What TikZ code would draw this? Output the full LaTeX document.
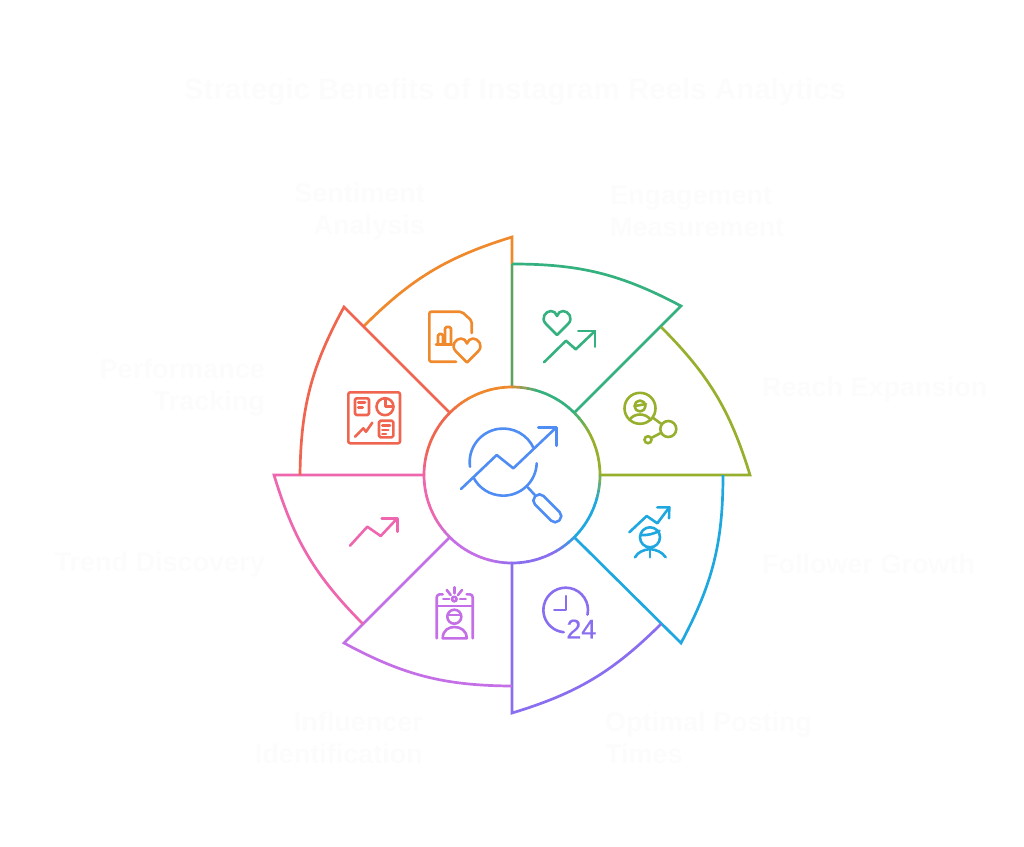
\documentclass[tikz,border=0pt]{standalone}
\usepackage{fontspec}
\setmainfont{Liberation Sans}
\definecolor{segorange}{HTML}{F0892B}
\definecolor{seggreen}{HTML}{34B17F}
\definecolor{segolive}{HTML}{96B02E}
\definecolor{segblue}{HTML}{1FA8E0}
\definecolor{segviolet}{HTML}{8A6EF0}
\definecolor{segorchid}{HTML}{C46FE6}
\definecolor{segpink}{HTML}{EE66AE}
\definecolor{segred}{HTML}{F0654F}
\definecolor{hubblue}{HTML}{4F8DF5}
\definecolor{ghost}{HTML}{FCFCFC}
\usetikzlibrary{arrows.meta, positioning}
\tikzset{
  sector/.style={line width=2.7pt, line join=miter},
  ringline/.style={line width=2.7pt},
  icon/.style={line width=2.6pt, line cap=round, line join=round},
  lbl/.style={font=\bfseries\fontsize{27}{32}\selectfont, color=ghost, inner sep=0pt},
  lblleft/.style={lbl, anchor=west, align=left},
  lblright/.style={lbl, anchor=east, align=right},
}
\newcommand{\heartpath}{(0,12) -- (-11,1) .. controls (-17,-5) and (-11,-12) .. (-6,-12) .. controls (-3,-12) and (-1,-10) .. (0,-7) .. controls (1,-10) and (3,-12) .. (6,-12) .. controls (11,-12) and (17,-5) .. (11,1) -- cycle}
\begin{document}
\begin{tikzpicture}[x=1pt,y=-1pt]
\useasboundingbox (0,0) rectangle (1024,846);
\node[minimum size=176pt,circle,inner sep=0pt,outer sep=0pt] (hub) at (512,475) {};
% petals
\foreach \sx/\sy/\ex/\ey/\ang/\col in {363/327/512/237/90/segorange,512/264/681/306/45/seggreen,661/327/750/475/0/segolive,723/475/681/643/-45/segblue,661/624/512/713/-90/segviolet,512/686/344/643/-135/segorchid,363/624/274/475/180/segpink,300/475/344/307/135/segred}
  \draw[sector,\col] (\sx,\sy) to[bend left=14] (\ex,\ey) -- (hub.\ang);
\draw[sector,seggreen] (512,264) -- (hub.90);
% hub ring
\foreach \ang/\cold/\cnew in {90/segorange/seggreen,45/seggreen/segolive,0/segolive/segblue,-45/segblue/segviolet,-90/segviolet/segorchid,-135/segorchid/segpink,180/segpink/segred,135/segred/segorange}
  \foreach \s in {0,...,8}{
    \pgfmathtruncatemacro{\mixval}{max(0,75-25*\s)}
    \draw[ringline,\cold!\mixval!\cnew,shift={(hub.center)}] (\ang-5*\s:88pt) arc[start angle=\ang-5*\s,delta angle=-5.4,radius=88pt];
  }
% hub icon
\draw[icon,hubblue] (470,466.7) arc[start angle=188,end angle=24.5,radius=33.5pt];
\draw[icon,hubblue] (536.7,463.3) arc[start angle=-2,end angle=-153,radius=33.5pt];
\draw[icon,hubblue] (461,489) -- (496.7,455) -- (513.3,468.3) -- (556,427.7);
\draw[icon,hubblue] (538.3,427.7) -- (556.7,427.7) -- (556.7,445.7);
\node[draw=hubblue,line width=2.6pt,rounded corners=5.5pt,inner sep=0pt,minimum width=34pt,minimum height=12pt,rotate=-45] (lens) at (547.3,508.3) {};
\draw[icon,hubblue] (527.7,487.3) -- (lens);
% engagement
\draw[icon,seggreen,shift={(557,323)}] \heartpath;
\draw[icon,seggreen] (544,362.3) -- (566,340.7) -- (575.7,349.3) -- (595,331);
\draw[icon,seggreen] (578.3,331) -- (595,331) -- (595,346.7);
% reach
\node[draw=segolive,line width=2.6pt,circle,inner sep=0pt,minimum size=31pt] (reachhead) at (640,408.3) {};
\node[draw=segolive,line width=2.6pt,circle,inner sep=0pt,minimum size=16pt] (reachbig) at (668.3,429) {};
\node[draw=segolive,line width=2.6pt,circle,inner sep=0pt,minimum size=7pt] (reachsmall) at (648,439.7) {};
\draw[icon,segolive] (reachhead) -- (reachbig);
\draw[icon,segolive] (reachbig) -- (reachsmall);
\draw[icon,segolive] (640,406) circle[radius=5.5pt];
\draw[icon,segolive] (635,406) -- (646,404);
\draw[icon,segolive] (629.5,420) .. controls (632,416) and (636,414.5) .. (640,414.5) .. controls (644,414.5) and (648,416) .. (650.7,420);
% followers
\draw[icon,segblue] (629.3,532.3) -- (646.7,516) -- (657.3,523.3) -- (669.3,507.3);
\draw[icon,segblue] (657.3,507.3) -- (669.3,507.3) -- (669,518.3);
\draw[icon,segblue] (650,537.3) circle[radius=10pt];
\draw[icon,segblue] (641,535) .. controls (647,535.5) and (654,534) .. (659.5,530.7);
\draw[icon,segblue] (650,547.3) -- (650,557.3);
\draw[icon,segblue] (635,557.3) .. controls (638,552) and (643,550) .. (650,549) .. controls (657,550) and (662,552) .. (665.7,557.3);
% posting times
\draw[icon,segviolet] (587.5,614.6) arc[start angle=-12,end angle=265,radius=22.3pt];
\draw[icon,segviolet] (566,596) -- (566,610) -- (554.3,610);
\node[font=\fontsize{27}{27}\selectfont\addfontfeature{FakeBold=0.6},color=segviolet,inner sep=0pt] (hours) at (581.3,629) {24};
% influencer
\draw[icon,segorchid,rounded corners=3pt] (436.7,638.3) -- (436.7,594.3) -- (442.7,594.3);
\draw[icon,segorchid,rounded corners=3pt] (472.7,638.3) -- (472.7,594.3) -- (466.7,594.3);
\draw[icon,segorchid] (436.7,606) -- (472.7,606);
\draw[icon,segorchid] (454.3,599) circle[radius=2.3pt];
\draw[icon,segorchid] (454.3,587.3) -- (454.3,593.3);
\draw[icon,segorchid] (446.7,590) -- (450.7,595);
\draw[icon,segorchid] (462,590) -- (458,595);
\draw[icon,segorchid] (443.3,599) -- (449.3,599);
\draw[icon,segorchid] (460,599) -- (465.7,599);
\draw[icon,segorchid] (454.3,616.7) circle[radius=7pt];
\draw[icon,segorchid] (447.5,615) -- (461,615);
\draw[icon,segorchid] (442.7,638.3) .. controls (442.7,630) and (449,627) .. (454.3,627) .. controls (460,627) and (466.7,630) .. (466.7,638.3) -- cycle;
% trend
\draw[icon,segpink] (350,545.7) -- (367.3,526.7) -- (380.7,536) -- (397.3,518.3);
\draw[icon,segpink] (381.7,518.3) -- (397.3,518.3) -- (397.3,531.7);
% tracking
\draw[icon,segred,rounded corners=2pt] (348.3,392.3) rectangle (400,443.3);
\draw[icon,segred,rounded corners=1.5pt] (355,398.3) rectangle (369,415);
\draw[icon,segred] (358.3,402.7) -- (365,402.7);
\draw[icon,segred] (358.3,407.7) -- (362.7,407.7);
\draw[icon,segred] (385,406.7) circle[radius=8.5pt];
\draw[icon,segred] (385.7,399) -- (385.7,406.7) -- (393,406.7);
\draw[icon,segred] (355,436.7) -- (363.3,428.3) -- (366,431.7) -- (372.3,422.7);
\draw[icon,segred,rounded corners=1.5pt] (379,420.7) rectangle (393.3,437.3);
\draw[icon,segred] (382.3,425.7) -- (390,425.7);
\draw[icon,segred] (382.3,430) -- (388.3,430);
\draw[icon,segred] (382.3,434) -- (386,434);
% sentiment
\draw[icon,segorange,rounded corners=2pt] (471.7,333) -- (471.7,320.7) -- (461.7,311.7) -- (429.3,311.7) -- (429.3,361.7) -- (456,361.7);
\draw[icon,segorange] (436,344.5) -- (452,344.5);
\draw[icon,segorange,rounded corners=1.5pt] (438,344.5) -- (438,334) -- (443,334) -- (443,344.5);
\draw[icon,segorange,rounded corners=1.5pt] (445,344.5) -- (445,327) -- (451,327) -- (451,344.5);
\draw[icon,segorange,fill=white,shift={(467,350.5)}] \heartpath;
% labels
\node[lbl,font=\bfseries\fontsize{29.5}{32}\selectfont] (title) at (515,92) {Strategic Benefits of Instagram Reels Analytics};
\node[lblright] (sentiment) at (425,212) {Sentiment\\Analysis};
\node[lblleft] (engagement) at (610,211) {Engagement\\Measurement};
\node[lblleft] (reach) at (762,390) {Reach Expansion};
\node[lblleft] (followers) at (762,564) {Follower Growth};
\node[lblleft] (posting) at (605,738) {Optimal Posting\\Times};
\node[lblright] (influencer) at (423,738) {Influencer\\Identification};
\node[lblright] (trend) at (265,565) {Trend Discovery};
\node[lblright] (tracking) at (265,388) {Performance\\Tracking};
\end{tikzpicture}
\end{document}
